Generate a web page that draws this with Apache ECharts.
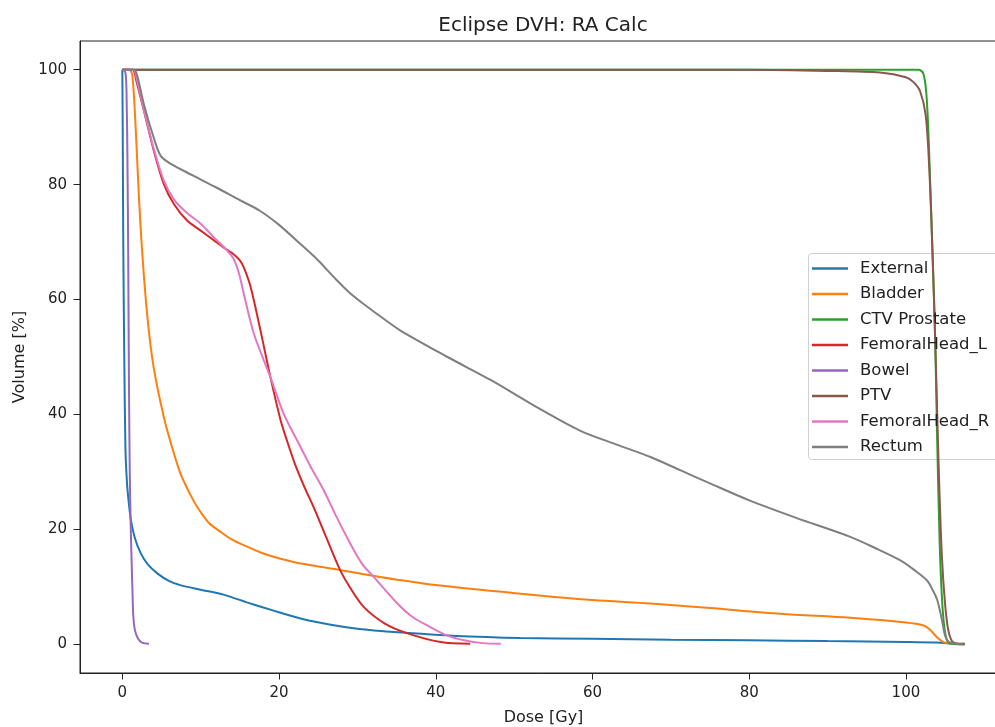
<!DOCTYPE html>
<html>
<head>
<meta charset="utf-8">
<script src="https://cdn.jsdelivr.net/npm/echarts@6/dist/echarts.min.js"></script>
<style>
  html, body { margin: 0; padding: 0; background: #fff; }
  #main { width: 995px; height: 727px; }
</style>
</head>
<body>
<div id="main"></div>
<script>
// DVH curves: [dose Gy, volume %]
let external = [[0,100],[0.05,90],[0.12,70],[0.25,50],[0.4,34],[0.6,28],[0.8,25],[1.1,21.6],[1.6,18.5],[2.3,16],[3.2,14],[4.5,12.3],[6,11],[7.4,10.3],[10,9.5],[13,8.6],[15.9,7.3],[18,6.4],[20.2,5.5],[23,4.4],[26.6,3.4],[30,2.7],[33,2.3],[37.2,1.9],[42,1.5],[50.8,1.1],[60,0.95],[70,0.8],[80,0.7],[90,0.55],[100,0.4],[104,0.3],[105.5,0.15],[107.5,0.1]];
let bladder = [[0,100],[0.9,100],[1.28,99],[1.7,90],[2.1,78.4],[2.55,68],[3.2,57],[4,48.2],[5.3,39.5],[6.2,35],[7.4,29.8],[8.7,26],[9.6,23.8],[11,21.2],[12.5,19.6],[14,18.2],[15.9,17],[18,15.8],[20.2,14.9],[23,14],[26.6,13.2],[32.9,11.7],[40,10.3],[50.8,8.8],[60,7.7],[67.4,7.1],[75,6.3],[84,5.3],[92.9,4.6],[100,3.8],[102.2,3.3],[103,2.6],[103.9,1.3],[104.6,0.5],[105.2,0.2],[107.5,0.1]];
let ctvProstate = [[0,100],[101.6,100],[102.2,99.4],[102.6,96],[102.9,88],[103.3,72],[103.7,55],[104,35],[104.3,18],[104.6,8],[104.9,3],[105.3,0.5],[105.8,0.1],[107.5,0]];
let femoralHeadL = [[0,100],[1.3,100],[1.8,98],[2.75,92.9],[4,86],[5.3,80.1],[6.6,76.6],[8.3,73.7],[10,72],[11.7,70.3],[13,69],[14.2,67.9],[15,66.8],[15.5,65.6],[16.2,63],[16.8,59.8],[17.9,52.9],[18.9,46.5],[20.2,39],[21,35.5],[22,31.5],[23.2,27.5],[24.4,23.9],[26,18.7],[27.8,12.9],[29,10],[30.8,6.5],[33.5,3.6],[36.4,1.9],[40.6,0.4],[44.4,0.1]];
let bowel = [[0,100],[0.4,99.5],[0.55,95],[0.65,85],[0.75,68],[0.85,45],[0.95,30],[1.05,22],[1.15,16.3],[1.3,9],[1.4,5],[1.6,2.5],[2,1],[2.5,0.3],[3.4,0.1]];
let ptv = [[0,100],[80,100],[90,99.8],[96.7,99.5],[100,98.7],[101,97.8],[101.8,96.3],[102.5,92.3],[102.9,85],[103.3,72],[103.8,50],[104.2,30],[104.6,15],[105,7],[105.4,2.5],[105.9,0.5],[106.5,0.1],[107.5,0]];
let femoralHeadR = [[0,100],[1.4,100],[1.9,98],[2.75,93],[4,86.3],[5.3,80.7],[6.6,77.4],[8.3,75],[10,73.2],[11.7,70.8],[13.4,68.5],[14.2,67.1],[14.9,64.5],[15.5,61],[16.8,54],[18.9,46.5],[20.6,40.1],[22.3,35.5],[24,31],[25.7,26.8],[27.4,22],[29.1,17.5],[30.6,14],[32.1,11.7],[35.1,7.1],[37,4.8],[39.3,3],[41.5,1.5],[43.6,0.7],[46,0.2],[48.3,0.1]];
let rectum = [[0,100],[1.5,100],[1.9,99],[2.75,94],[4,88.2],[4.9,85],[6.2,83.6],[9,81.6],[12,79.5],[15,77.3],[17.5,75.5],[20,73],[22.7,69.7],[25,66.8],[27,63.9],[29,61.2],[31.3,58.7],[33,57],[35.5,54.6],[41.5,50],[47,46],[52.1,41.9],[58.4,37.2],[63,34.8],[67.4,32.6],[71.2,30.3],[75,28],[80.1,25],[86,22],[92.9,18.7],[96,16.8],[99.3,14.6],[101,13],[102.7,11.1],[103.4,9.5],[104,7.7],[104.6,4.2],[105,1.5],[105.5,0.4],[106.5,0.1],[107.3,0]];

let names = ['External', 'Bladder', 'CTV Prostate', 'FemoralHead_L', 'Bowel', 'PTV', 'FemoralHead_R', 'Rectum'];
let curves = [external, bladder, ctvProstate, femoralHeadL, bowel, ptv, femoralHeadR, rectum];
let xTicks = [0, 20, 40, 60, 80, 100];
let yTicks = [0, 20, 40, 60, 80, 100];

let myChart = echarts.init(document.getElementById('main'));
let font = 'DejaVu Sans';
let option = {
    backgroundColor: '#fff',
    animation: false,
    color: ['#1f77b4', '#ff7f0e', '#2ca02c', '#d62728', '#9467bd', '#8c564b', '#e377c2', '#7f7f7f'],
    title: {
        text: 'Eclipse DVH: RA Calc',
        left: 538,
        top: 11,
        textAlign: 'center',
        textStyle: { fontFamily: font, fontSize: 20, fontWeight: 'normal', color: '#222' }
    },
    grid: {
        left: 80,
        right: -12,
        top: 41,
        bottom: 54,
        outerBoundsMode: 'none',
        containLabel: false,
        show: true,
        borderColor: '#222',
        borderWidth: 1
    },
    // legend frame runs past the right edge of the picture, like the cropped original
    graphic: [{
        type: 'rect',
        z: 3,
        shape: { x: 808.5, y: 253.5, width: 240, height: 206, r: 3 },
        style: { fill: 'rgba(255,255,255,0.8)', stroke: '#d0d0d0', lineWidth: 1 }
    }],
    legend: {
        orient: 'vertical',
        left: 808,
        top: 255,
        z: 4,
        data: names,
        icon: 'rect',
        itemWidth: 36,
        itemHeight: 2.5,
        itemGap: 8.5,
        padding: [5, 4, 6, 4],
        textStyle: { fontFamily: font, fontSize: 16.5, lineHeight: 17, color: '#222', padding: [0, 0, 0, 7] }
    },
    xAxis: {
        type: 'value',
        min: -5.4,
        max: 112.9,
        name: 'Dose [Gy]',
        nameLocation: 'middle',
        nameGap: 36.5,
        nameTextStyle: { fontFamily: font, fontSize: 16, color: '#222' },
        splitLine: { show: false },
        axisLine: { show: true, onZero: false, lineStyle: { color: '#222', width: 1 } },
        axisTick: { show: true, length: 6.5, lineStyle: { color: '#222' }, customValues: xTicks },
        axisLabel: { fontFamily: font, fontSize: 15, color: '#222', margin: 13, customValues: xTicks }
    },
    yAxis: {
        type: 'value',
        min: -5,
        max: 105,
        name: 'Volume [%]',
        nameLocation: 'middle',
        nameGap: 49,
        nameTextStyle: { fontFamily: font, fontSize: 16, color: '#222' },
        splitLine: { show: false },
        axisLine: { show: true, onZero: false, lineStyle: { color: '#222', width: 1 } },
        axisTick: { show: true, length: 6.5, lineStyle: { color: '#222' }, customValues: yTicks },
        axisLabel: { fontFamily: font, fontSize: 15, color: '#222', margin: 13, customValues: yTicks }
    },
    series: curves.map(function (d, i) {
        return {
            name: names[i],
            type: 'line',
            data: d,
            symbol: 'none',
            smooth: 0.3,
            lineStyle: { width: 2 }
        };
    })
};
myChart.setOption(option);
</script>
</body>
</html>
